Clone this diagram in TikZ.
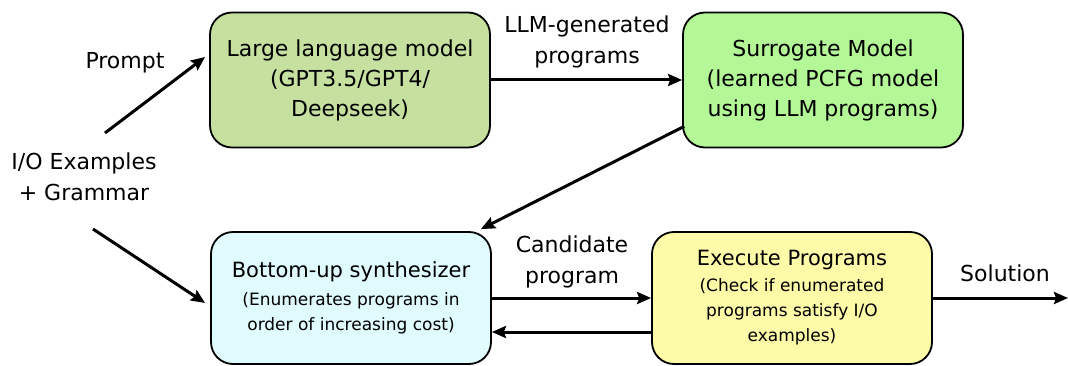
\documentclass[tikz,border=0pt]{standalone}
\usepackage{fontspec}
\setmainfont{DejaVu Sans}
\usetikzlibrary{arrows.meta}
\definecolor{llmgreen}{HTML}{C6E0A0}
\definecolor{surgreen}{HTML}{B4F796}
\definecolor{synthcyan}{HTML}{E0FBFD}
\definecolor{execyellow}{HTML}{FDFAA8}
\newcommand{\ttl}[1]{{\fontsize{21}{25}\selectfont #1}}
\tikzset{
  box/.style={draw=black, line width=1.8pt, rounded corners=22pt,
    minimum width=280pt, inner sep=0pt, align=center},
  flow/.style={line width=3pt, -{Stealth[length=14pt,width=12pt,inset=2pt]}},
  lbl/.style={align=center, font=\fontsize{22}{31}\selectfont},
  big/.style={font=\fontsize{22}{30}\selectfont},
  small/.style={font=\fontsize{17}{25}\selectfont}
}
\begin{document}
\begin{tikzpicture}[x=1pt,y=-1pt]
\useasboundingbox (0,0) rectangle (1068,366);
% boxes
\node[box, big, fill=llmgreen, minimum height=135pt] (llm) at (350,80)
  {Large language model\\(GPT3.5/GPT4/\\Deepseek)};
\node[box, big, fill=surgreen, minimum height=135pt] (sur) at (823,80)
  {Surrogate Model\\(learned PCFG model\\using LLM programs)};
\node[box, small, fill=synthcyan, minimum height=132pt] (syn) at (351,298)
  {\ttl{Bottom-up synthesizer}\\[3pt]
   (Enumerates programs in\\order of increasing cost)};
\node[box, small, fill=execyellow, minimum height=132pt] (exe) at (792,298)
  {\ttl{Execute Programs}\\[1pt]
   (Check if enumerated\\programs satisfy I/O\\examples)};
% free labels
\node[lbl] (io) at (84,177) {I/O Examples\\+ Grammar};
\node[lbl] (prompt) at (125,63) {Prompt};
\node[lbl] (gen) at (587,42) {LLM-generated\\programs};
\node[lbl] (cand) at (572,262) {Candidate\\program};
\node[lbl] (sol) at (1005,273) {Solution};
% connector end points
\coordinate (ioUp) at (105,133);
\coordinate (ioDown) at (93,229);
\coordinate (out) at (1068,298);
% connectors
\draw[flow] (ioUp) -- ([xshift=-4pt]llm.west |- 0,57);
\draw[flow] (ioDown) -- ([xshift=-5pt]syn.west |- 0,303);
\draw[flow] (llm.east) -- (sur.west);
\draw[flow] ([xshift=2pt,yshift=22pt]sur.south west) -- ([xshift=-11pt,yshift=2pt]syn.north east);
\draw[flow] (syn.east |- 0,298) -- (exe.west |- 0,298);
\draw[flow] (exe.west |- 0,332) -- (syn.east |- 0,332);
\draw[flow] (exe.east |- 0,298) -- (out);
\end{tikzpicture}
\end{document}
